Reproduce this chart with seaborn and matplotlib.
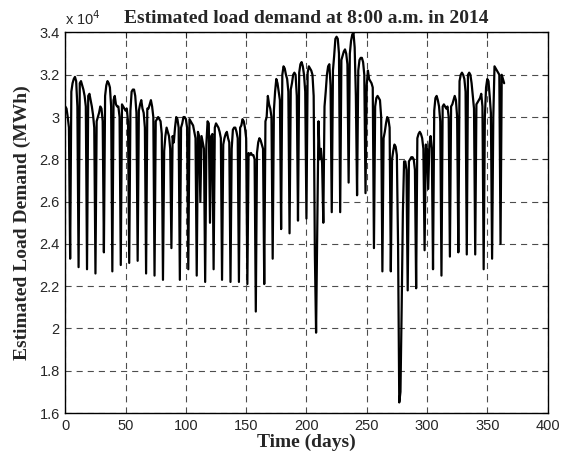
import numpy as np
import pandas as pd
import matplotlib
matplotlib.use("Agg")
import matplotlib.pyplot as plt
import seaborn as sns
from matplotlib.ticker import FuncFormatter, MultipleLocator

# Estimated load at 8:00 a.m., units of 10^4 MWh, one line per week (Mon..Sun)
load_q1 = [
    3.05, 3.04, 3.00, 2.95, 2.33,  # Wed 1 Jan .. Sun 5 Jan
    3.12, 3.16, 3.18, 3.19, 3.17, 3.05, 2.29,
    3.16, 3.17, 3.15, 3.13, 3.10, 3.05, 2.28,
    3.10, 3.11, 3.08, 3.05, 3.01, 2.95, 2.26,
    2.98, 3.00, 3.02, 3.05, 3.04, 2.98, 2.36,
    3.10, 3.15, 3.17, 3.16, 3.14, 3.05, 2.27,
    3.08, 3.10, 3.06, 3.05, 3.05, 3.00, 2.30,
    3.06, 3.05, 3.04, 3.03, 3.04, 2.98, 2.31,
    3.03, 3.12, 3.13, 3.13, 3.10, 3.02, 2.32,
    3.03, 3.06, 3.08, 3.04, 3.02, 2.95, 2.26,
    3.04, 3.04, 3.06, 3.08, 3.05, 3.00, 2.25,
    2.98, 2.99, 3.00, 2.99, 2.98, 2.92, 2.23,
    2.84, 2.91, 2.95, 2.93, 2.91, 2.85, 2.38,
]
load_q2 = [
    2.91, 2.88, 2.95, 3.00, 2.99, 2.95, 2.23,
    2.95, 2.97, 3.00, 3.00, 2.99, 2.95, 2.28,
    2.99, 2.98, 2.97, 2.96, 2.93, 2.90, 2.25,
    2.93, 2.91, 2.60, 2.91, 2.88, 2.85, 2.22,
    2.87, 2.98, 2.97, 2.50, 2.91, 2.92, 2.28,
    2.95, 2.97, 2.96, 2.95, 2.93, 2.90, 2.23,
    2.87, 2.90, 2.92, 2.93, 2.90, 2.88, 2.22,
    2.85, 2.94, 2.95, 2.95, 2.93, 2.90, 2.22,
    2.95, 2.96, 2.99, 2.98, 2.95, 2.90, 2.21,
    2.83, 2.82, 2.83, 2.82, 2.82, 2.80, 2.08,
    2.83, 2.88, 2.90, 2.89, 2.87, 2.85, 2.21,
    2.98, 3.00, 3.10, 3.06, 3.04, 3.00, 2.33,
    3.03, 3.12, 3.18, 3.16, 3.12, 3.08, 2.47,
]
load_q3 = [
    3.20, 3.24, 3.23, 3.20, 3.18, 3.12, 2.45,
    3.13, 3.16, 3.20, 3.21, 3.20, 3.10, 2.51,
    3.21, 3.25, 3.26, 3.24, 3.20, 3.12, 2.52,
    3.21, 3.24, 3.23, 3.22, 3.20, 3.10, 2.35,
    1.98, 2.50, 2.98, 2.80, 2.85, 2.78, 2.50,
    3.05, 3.12, 3.20, 3.24, 3.25, 3.15, 2.55,
    3.22, 3.29, 3.37, 3.38, 3.37, 3.30, 2.55,
    3.27, 3.29, 3.31, 3.32, 3.30, 3.25, 2.69,
    3.30, 3.36, 3.39, 3.40, 3.33, 3.10, 2.63,
    3.22, 3.27, 3.28, 3.28, 3.26, 3.20, 2.64,
    3.15, 3.22, 3.18, 3.17, 3.16, 3.14, 2.38,
    3.05, 3.09, 3.10, 3.09, 3.08, 3.00, 2.27,
    2.90, 2.93, 2.97, 3.00, 2.99, 2.95, 2.27,
]
load_q4 = [
    2.80, 2.84, 2.87, 2.86, 2.82, 2.40, 1.65,
    1.70, 2.10, 2.55, 2.79, 2.79, 2.75, 2.18,
    2.79, 2.80, 2.81, 2.81, 2.80, 2.75, 2.19,
    2.90, 2.92, 2.93, 2.92, 2.90, 2.85, 2.37,
    2.87, 2.85, 2.66, 2.87, 2.91, 2.85, 2.28,
    3.03, 3.09, 3.10, 3.08, 3.05, 2.98, 2.25,
    3.05, 3.06, 3.05, 3.04, 3.05, 3.00, 2.34,
    3.05, 3.06, 3.08, 3.10, 3.08, 3.00, 2.36,
    3.17, 3.20, 3.21, 3.20, 3.18, 3.12, 2.35,
    3.20, 3.21, 3.20, 3.16, 3.10, 3.04, 2.35,
    3.06, 3.07, 3.08, 3.09, 3.11, 3.05, 2.28,
    3.00, 3.14, 3.18, 3.17, 3.10, 3.02, 2.33,
    3.00, 3.24, 3.23, 3.22, 3.21, 3.20, 2.40,
    3.20, 3.18, 3.16,  # Mon 29 Dec .. Wed 31 Dec
]

load = np.array(load_q1 + load_q2 + load_q3 + load_q4) * 1e4
df = pd.DataFrame({"day": np.arange(len(load)), "load": load})

sns.set_style("white")
plt.rcParams["font.family"] = ["Liberation Sans", "DejaVu Sans"]
serif = ["Liberation Serif", "DejaVu Serif"]

fig = plt.figure(figsize=(5.66, 4.59), dpi=100)
ax = fig.add_axes([0.1154, 0.1002, 0.852, 0.829])

sns.lineplot(data=df, x="day", y="load", color="black", linewidth=1.6, ax=ax)

ax.set_xlim(0, 400)
ax.set_ylim(1.6e4, 3.4e4)
ax.xaxis.set_major_locator(MultipleLocator(50))
ax.yaxis.set_major_locator(MultipleLocator(2000))
ax.yaxis.set_major_formatter(FuncFormatter(lambda v, _: f"{v / 1e4:g}"))
ax.tick_params(direction="in", top=True, right=True, length=4.5, labelsize=10.5, width=0.8, pad=4)
ax.grid(True, linestyle=(0, (5.5, 4.5)), color="0.3", linewidth=0.8)
for s in ax.spines.values():
    s.set_color("black")
    s.set_linewidth(1.0)

ax.text(0.0, 1.012, r"x 10$^4$", transform=ax.transAxes, fontsize=10.5, ha="left", va="bottom")
ax.set_title("Estimated load demand at 8:00 a.m. in 2014", fontsize=14, fontweight="bold",
             family=serif, pad=7)
ax.set_xlabel("Time (days)", fontsize=14, fontweight="bold", family=serif, labelpad=1)
ax.set_ylabel("Estimated Load Demand (MWh)", fontsize=14, fontweight="bold", family=serif, labelpad=6)

fig.savefig("out.png", dpi=100)
